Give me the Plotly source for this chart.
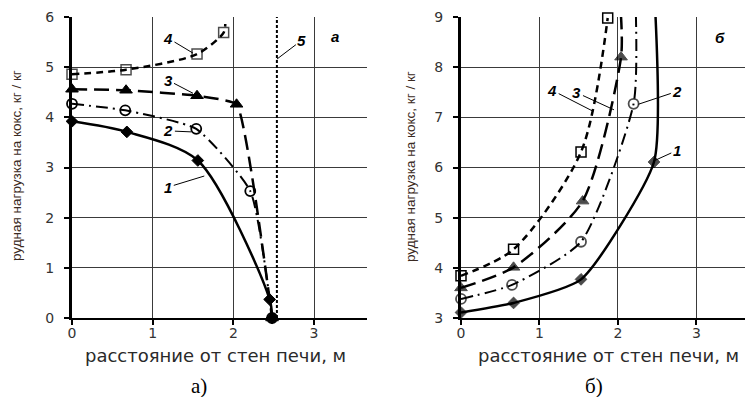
import plotly.graph_objects as go

# ---------------- data (panel а) ----------------
a1_x = [0.0, 0.68, 1.56, 2.45, 2.48]
a1_y = [3.92, 3.71, 3.14, 0.37, 0.0]
a2_x = [0.0, 0.66, 1.54, 2.21, 2.48]
a2_y = [4.27, 4.14, 3.77, 2.53, 0.0]
a3_x = [0.0, 0.67, 1.55, 2.04, 2.48]
a3_y = [4.56, 4.54, 4.43, 4.26, 0.0]
a4_x = [0.0, 0.67, 1.55, 1.88, 1.90]
a4_y = [4.86, 4.95, 5.26, 5.69, 5.86]
a4_marks = [1, 1, 1, 1, 0]
a5_x = [2.54, 2.54]
a5_y = [0.0, 6.0]

# ---------------- data (panel б) ----------------
b1_x = [0.0, 0.67, 1.53, 2.46, 2.48]
b1_y = [3.11, 3.30, 3.77, 6.11, 9.0]
b1_marks = [1, 1, 1, 1, 0]
b2_x = [0.0, 0.65, 1.53, 2.20, 2.23]
b2_y = [3.38, 3.66, 4.52, 7.27, 9.0]
b2_marks = [1, 1, 1, 1, 0]
b3_x = [0.0, 0.67, 1.55, 2.04, 2.04]
b3_y = [3.60, 4.01, 5.33, 8.20, 9.0]
b3_marks = [1, 1, 1, 1, 0]
b4_x = [0.0, 0.67, 1.53, 1.87]
b4_y = [3.84, 4.37, 6.31, 8.98]

x_ticks = [0, 1, 2, 3]
ya_ticks = [0, 1, 2, 3, 4, 5, 6]
yb_ticks = [3, 4, 5, 6, 7, 8, 9]

x_title = "расстояние от стен печи, м"
y_title = "рудная нагрузка на кокс, кг / кг"

# ---------------- styles ----------------
styles = {
    "1": dict(dash="solid", width=2.5, symbol="diamond", size=9, lw=1),
    "2": dict(dash="12px,5px,2px,5px", width=2, symbol="circle-open", size=10, lw=1.8),
    "3": dict(dash="15px,7px", width=2.5, symbol="triangle-up", size=11, lw=1),
    "4": dict(dash="7px,5px", width=2.5, symbol="square-open", size=10, lw=1.5),
}

fig = go.Figure()


def add_curve(x, y, key, xa, ya, marks=None, smooth=0.9):
    s = styles[key]
    sizes = [s["size"] * m for m in marks] if marks else s["size"]
    fig.add_trace(go.Scatter(
        x=x, y=y, xaxis=xa, yaxis=ya, mode="lines+markers",
        line=dict(color="black", width=s["width"], dash=s["dash"], shape="spline", smoothing=smooth),
        marker=dict(symbol=s["symbol"], size=sizes, color="black",
                    line=dict(color="black", width=s["lw"])),
        cliponaxis=False, showlegend=False, hoverinfo="skip"))


add_curve(a1_x, a1_y, "1", "x", "y", smooth=0.8)
add_curve(a2_x, a2_y, "2", "x", "y", smooth=0.5)
add_curve(a3_x, a3_y, "3", "x", "y", smooth=0.35)
add_curve(a4_x, a4_y, "4", "x", "y", a4_marks, smooth=0.8)
fig.add_trace(go.Scatter(x=a5_x, y=a5_y, xaxis="x", yaxis="y", mode="lines",
                         line=dict(color="black", width=2, dash="3px,2px"),
                         showlegend=False, hoverinfo="skip"))

add_curve(b1_x, b1_y, "1", "x2", "y2", b1_marks, smooth=0.55)
add_curve(b2_x, b2_y, "2", "x2", "y2", b2_marks, smooth=0.6)
add_curve(b3_x, b3_y, "3", "x2", "y2", b3_marks, smooth=0.7)
add_curve(b4_x, b4_y, "4", "x2", "y2", smooth=0.8)

W, H = 746, 397
tick_font = dict(family="DejaVu Sans", size=14, color="#333333")
grid = "#3a3a3a"

common_x = dict(tickvals=x_ticks, showline=True, linecolor="black", linewidth=2,
                ticks="outside", ticklen=5, tickcolor="black", tickwidth=1.5,
                showgrid=True, gridcolor=grid, gridwidth=1, zeroline=False,
                tickfont=tick_font, ticklabelstandoff=-4, automargin=False)
common_y = dict(showline=True, linecolor="black", linewidth=3,
                ticks="outside", ticklen=5, tickcolor="black", tickwidth=1.5,
                showgrid=True, gridcolor=grid, gridwidth=1, zeroline=False,
                tickfont=tick_font, ticklabelstandoff=7, automargin=False)

ydom = [1 - 318 / H, 1 - 17 / H]
fig.update_layout(
    width=W, height=H, margin=dict(l=0, r=0, t=0, b=0, pad=0, autoexpand=False),
    paper_bgcolor="white", plot_bgcolor="white",
    xaxis=dict(domain=[72 / W, 367 / W], range=[0, 3.657], anchor="y", **common_x),
    yaxis=dict(domain=ydom, range=[0, 6], tickvals=ya_ticks, anchor="x", **common_y),
    xaxis2=dict(domain=[461 / W, 745 / W], range=[0, 3.62], anchor="y2", **common_x),
    yaxis2=dict(domain=ydom, range=[3, 9], tickvals=yb_ticks, anchor="x2", **common_y),
)

ann = []
lab_font = dict(family="Liberation Sans", size=15, color="black")


def lab(text, x, y, xr, yr, ax=None, ay=None):
    d = dict(text="<b><i>%s</i></b>" % text, x=x, y=y, xref=xr, yref=yr,
             font=lab_font, xanchor="center", yanchor="middle")
    if ax is None:
        d.update(showarrow=False)
    else:
        d.update(showarrow=True, arrowhead=0, arrowwidth=1, arrowcolor="black",
                 ax=ax, ay=ay, standoff=0)
    ann.append(d)


# panel а labels
lab("4", 1.50, 5.28, "x", "y", -25, -15)
lab("3", 1.50, 4.48, "x", "y", -25, -13)
lab("2", 1.48, 3.71, "x", "y", -23, -1)
lab("1", 1.64, 2.83, "x", "y", -36, 11)
lab("5", 2.54, 5.16, "x", "y", 25, -19)
lab("а", 3.26, 5.61, "x", "y")
# panel б labels
lab("4", 1.685, 7.12, "x2", "y2", -41, -21)
lab("3", 1.95, 7.15, "x2", "y2", -37, -17)
lab("2", 2.26, 7.26, "x2", "y2", 39, -13)
lab("1", 2.47, 6.14, "x2", "y2", 22, -10)
lab("б", 3.30, 8.60, "x2", "y2")


def paper_text(text, px, py, font, angle=0):
    ann.append(dict(text=text, x=px / W, y=1 - py / H, xref="paper", yref="paper",
                    xanchor="center", yanchor="middle", showarrow=False,
                    textangle=angle, font=font))


title_font = dict(family="DejaVu Sans", size=18, color="#2a2a2a")
ytitle_font = dict(family="Liberation Sans", size=13.5, color="#3a2a22")
sub_font = dict(family="Liberation Serif", size=21, color="black")
paper_text(x_title, 215, 355, title_font)
paper_text(x_title, 608, 355, title_font)
paper_text(y_title, 16, 166, ytitle_font, -90)
paper_text(y_title, 410, 167, ytitle_font, -90)
paper_text("а)", 199, 386, sub_font)
paper_text("б)", 594, 386, sub_font)

fig.update_layout(annotations=ann)
fig.write_html("out.html", post_script="document.body.style.margin='0';",
               config={"displayModeBar": False})
